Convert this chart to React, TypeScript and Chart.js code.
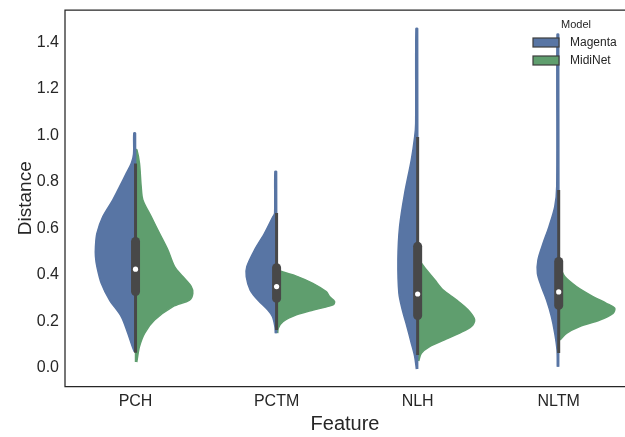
import React, { useEffect, useRef } from 'react';
import { Chart, registerables } from 'chart.js';

Chart.register(...registerables);

const features = ['PCH', 'PCTM', 'NLH', 'NLTM'];
const models = ['Magenta', 'MidiNet'];
const modelColors = ['#5875a4', '#5f9e6e'];
const yTicks = [0, 0.2, 0.4, 0.6, 0.8, 1.0, 1.2, 1.4];

// Half-violin density profiles: [Distance value, half-width in category units], bottom -> top
const pchMagenta: [number, number][] = [
  [0.07, 0.009], [0.092, 0.023], [0.149, 0.055], [0.221, 0.101], [0.292, 0.184], [0.364, 0.243],
  [0.436, 0.274], [0.48, 0.284], [0.522, 0.284], [0.579, 0.274], [0.651, 0.232], [0.723, 0.161],
  [0.78, 0.113], [0.837, 0.066], [0.88, 0.03], [0.92, 0.014], [1.01, 0.012],
];
const pchMidiNet: [number, number][] = [
  [0.025, 0.009], [0.034, 0.011], [0.092, 0.028], [0.149, 0.064], [0.206, 0.135], [0.264, 0.265],
  [0.292, 0.383], [0.321, 0.406], [0.35, 0.395], [0.393, 0.335], [0.436, 0.277], [0.508, 0.229],
  [0.579, 0.17], [0.651, 0.111], [0.723, 0.052], [0.78, 0.04], [0.88, 0.028], [0.938, 0.01],
];
const pctmMagenta: [number, number][] = [
  [0.149, 0.009], [0.178, 0.012], [0.221, 0.03], [0.249, 0.062], [0.292, 0.133], [0.335, 0.187],
  [0.393, 0.215], [0.436, 0.211], [0.508, 0.156], [0.58, 0.085], [0.651, 0.026], [0.665, 0.014],
  [0.845, 0.012],
];
const pctmMidiNet: [number, number][] = [
  [0.15, 0.008], [0.171, 0.012], [0.199, 0.045], [0.228, 0.14], [0.249, 0.26], [0.271, 0.4],
  [0.286, 0.411], [0.307, 0.375], [0.328, 0.352], [0.364, 0.257], [0.395, 0.14], [0.418, 0.02],
  [0.43, 0.008],
];
const nlhMagenta: [number, number][] = [
  [-0.005, 0.009], [0.049, 0.021], [0.106, 0.045], [0.178, 0.076], [0.25, 0.109], [0.322, 0.133],
  [0.465, 0.14], [0.608, 0.128], [0.752, 0.092], [0.895, 0.045], [0.995, 0.021], [1.052, 0.014],
  [1.46, 0.012],
];
const nlhMidiNet: [number, number][] = [
  [0.03, 0.008], [0.063, 0.026], [0.092, 0.085], [0.121, 0.191], [0.15, 0.298], [0.178, 0.381],
  [0.207, 0.404], [0.25, 0.357], [0.293, 0.274], [0.336, 0.179], [0.379, 0.121], [0.422, 0.062],
  [0.465, 0.008],
];
const nltmMagenta: [number, number][] = [
  [0.005, 0.01], [0.077, 0.012], [0.149, 0.028], [0.221, 0.052], [0.293, 0.087], [0.35, 0.123],
  [0.407, 0.151], [0.465, 0.147], [0.536, 0.111], [0.608, 0.069], [0.694, 0.028], [0.78, 0.014],
  [1.435, 0.012],
];
const nltmMidiNet: [number, number][] = [
  [0.12, 0.01], [0.149, 0.055], [0.178, 0.149], [0.206, 0.291], [0.235, 0.385], [0.257, 0.397],
  [0.278, 0.338], [0.307, 0.243], [0.35, 0.126], [0.393, 0.043], [0.436, 0.008],
];

const magentaProfiles = [pchMagenta, pctmMagenta, nlhMagenta, nltmMagenta];
const midiNetProfiles = [pchMidiNet, pctmMidiNet, nlhMidiNet, nltmMidiNet];

// Inner box statistics (combined data per feature)
const whiskerLow = [0.065, 0.163, 0.056, 0.064];
const quartile1 = [0.329, 0.299, 0.225, 0.269];
const medians = [0.425, 0.35, 0.318, 0.327];
const quartile3 = [0.544, 0.431, 0.523, 0.458];
const whiskerHigh = [0.88, 0.667, 0.994, 0.766];

const FONT = 'Liberation Sans, Arial, sans-serif';
const TEXT = '#262626';
const BOX = '#484848';

const framePlugin = {
  id: 'frame',
  afterDraw(chart: any) {
    const { ctx, chartArea } = chart;
    const { left, top, right, bottom } = chartArea;
    ctx.save();
    ctx.strokeStyle = '#262626';
    ctx.lineWidth = 1.25;
    ctx.beginPath();
    ctx.moveTo(right + 4, top);
    ctx.lineTo(left, top);
    ctx.lineTo(left, bottom);
    ctx.lineTo(right + 4, bottom);
    ctx.stroke();
    ctx.restore();
  },
};

const legendPlugin = {
  id: 'violinLegend',
  afterDraw(chart: any) {
    const { ctx, chartArea } = chart;
    const x0 = chartArea.right - 92;
    const y0 = chartArea.top;
    ctx.save();
    ctx.fillStyle = TEXT;
    ctx.font = `11px ${FONT}`;
    ctx.textBaseline = 'middle';
    ctx.textAlign = 'left';
    ctx.fillText('Model', x0 + 28, y0 + 14.5);
    models.forEach((m, i) => {
      const py = y0 + 28 + i * 18;
      ctx.fillStyle = modelColors[i];
      ctx.fillRect(x0, py, 26, 9);
      ctx.strokeStyle = '#3c3c3c';
      ctx.lineWidth = 1.2;
      ctx.strokeRect(x0, py, 26, 9);
      ctx.fillStyle = TEXT;
      ctx.font = `12px ${FONT}`;
      ctx.fillText(m, x0 + 37, py + 4.8);
    });
    ctx.restore();
  },
};

export default function App() {
  const canvasRef = useRef<HTMLCanvasElement | null>(null);

  useEffect(() => {
    if (!canvasRef.current) return;
    const datasets: any[] = [];
    [magentaProfiles, midiNetProfiles].forEach((profiles, m) => {
      const sign = m === 0 ? -1 : 1;
      profiles.forEach((prof, f) => {
        const pts = prof.map(([v, w]) => ({ x: f + sign * w, y: v }));
        pts.push({ x: f, y: prof[prof.length - 1][0] });
        pts.push({ x: f, y: prof[0][0] });
        datasets.push({
          label: `${models[m]} ${features[f]}`,
          data: pts,
          showLine: true,
          fill: 'shape',
          backgroundColor: modelColors[m],
          borderColor: modelColors[m],
          borderWidth: 1.5,
          borderJoinStyle: 'round',
          pointRadius: 0,
          tension: 0.3,
          order: 10 + m,
        });
      });
    });
    features.forEach((_, f) => {
      datasets.push({
        label: `whisker ${f}`,
        data: [{ x: f, y: whiskerLow[f] }, { x: f, y: whiskerHigh[f] }],
        showLine: true,
        borderColor: BOX,
        borderWidth: 3,
        pointRadius: 0,
        fill: false,
        order: 3,
      });
      datasets.push({
        label: `box ${f}`,
        data: [{ x: f, y: quartile1[f] }, { x: f, y: quartile3[f] }],
        showLine: true,
        borderColor: BOX,
        borderWidth: 9,
        borderCapStyle: 'round',
        pointRadius: 0,
        fill: false,
        order: 2,
      });
    });
    datasets.push({
      label: 'median',
      data: medians.map((v, f) => ({ x: f, y: v })),
      showLine: false,
      pointRadius: 2.6,
      pointBackgroundColor: '#ffffff',
      pointBorderWidth: 0,
      order: 1,
    });

    const chart = new Chart(canvasRef.current, {
      type: 'scatter',
      data: { datasets },
      options: {
        animation: false,
        responsive: true,
        maintainAspectRatio: false,
        events: [],
        layout: { padding: { top: 10, left: 0, right: 0, bottom: 0 } },
        plugins: { legend: { display: false }, tooltip: { enabled: false } },
        scales: {
          x: {
            type: 'linear',
            min: -0.5,
            max: 3.47,
            grid: { display: false, drawTicks: false },
            border: { display: false },
            afterBuildTicks: (s: any) => {
              s.ticks = features.map((_, i) => ({ value: i }));
            },
            afterFit: (s: any) => {
              s.height = 50.5;
              s.paddingLeft = 0;
              s.paddingRight = 0;
            },
            ticks: {
              padding: 5,
              color: TEXT,
              font: { family: FONT, size: 16 },
              callback: (v: any) => features[Math.round(Number(v))] ?? '',
            },
            title: {
              display: true,
              text: 'Feature',
              color: TEXT,
              font: { family: FONT, size: 20 },
              padding: { top: 0, bottom: 1 },
            },
          },
          y: {
            min: -0.08,
            max: 1.54,
            grid: { display: false, drawTicks: false },
            border: { display: false },
            afterBuildTicks: (s: any) => {
              s.ticks = yTicks.map((v) => ({ value: v }));
            },
            afterFit: (s: any) => {
              s.width = 65;
              s.paddingTop = 0;
              s.paddingBottom = 0;
            },
            ticks: {
              padding: 6,
              color: TEXT,
              font: { family: FONT, size: 16 },
              callback: (v: any) => Number(v).toFixed(1),
            },
            title: {
              display: true,
              text: 'Distance',
              color: TEXT,
              font: { family: FONT, size: 19 },
              padding: { top: 14, bottom: 0 },
            },
          },
        },
      },
      plugins: [framePlugin, legendPlugin],
    } as any);
    return () => chart.destroy();
  }, []);

  return (
    <div style={{ position: 'fixed', left: 0, top: 0, width: 629, height: 437, background: '#fff' }}>
      <canvas ref={canvasRef} />
    </div>
  );
}
